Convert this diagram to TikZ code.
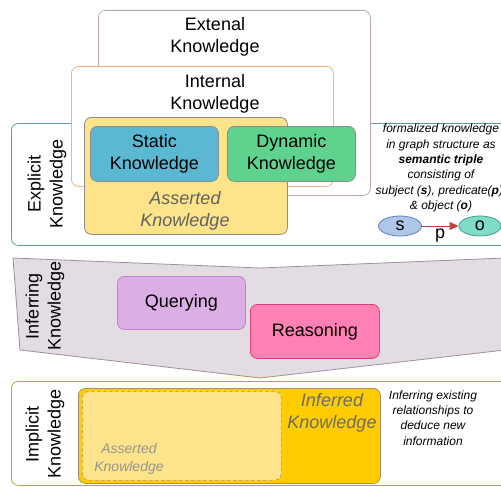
\documentclass[tikz,border=0pt]{standalone}
\usepackage{fontspec}
\setmainfont{Liberation Sans}
\usetikzlibrary{shapes.geometric,arrows.meta}
\definecolor{extb}{HTML}{BCA9A9}
\definecolor{intb}{HTML}{F4B183}
\definecolor{expb}{HTML}{5B9AA8}
\definecolor{assf}{HTML}{FDE38A}
\definecolor{boxb}{HTML}{8C8C8C}
\definecolor{statf}{HTML}{5BB8D2}
\definecolor{dynf}{HTML}{5FD38D}
\definecolor{inff}{HTML}{E3DCE3}
\definecolor{infb}{HTML}{9E8EA0}
\definecolor{qf}{HTML}{DCAEE6}
\definecolor{qb}{HTML}{C27FD0}
\definecolor{rf}{HTML}{FF80B2}
\definecolor{rb}{HTML}{E0407A}
\definecolor{impb}{HTML}{B8A050}
\definecolor{yelf}{HTML}{FFCC00}
\definecolor{yelb}{HTML}{A09070}
\definecolor{sf}{HTML}{AEC6E8}
\definecolor{sb}{HTML}{5A80C0}
\definecolor{of}{HTML}{80DCC8}
\definecolor{ob}{HTML}{40A090}
\definecolor{arr}{HTML}{C04040}
\begin{document}
\begin{tikzpicture}[x=1pt,y=-1pt,
  rbox/.style={draw,rounded corners=7pt,line width=0.8pt,inner sep=0pt,anchor=north west},
  big/.style={font=\fontsize{18}{22}\selectfont,align=center},
  small/.style={font=\fontsize{12}{15.3}\selectfont\itshape,align=center},
  side/.style={font=\fontsize{18}{22}\selectfont,align=center,rotate=90}]
\useasboundingbox (0,0) rectangle (501,487);
\begin{scope}
\clip (0,0) rectangle (501,487);
% explicit
\node[rbox,draw=expb,fill=white,minimum width=500pt,minimum height=122pt] (expl) at (11,123) {};
\node[rbox,draw=extb,fill=white,minimum width=272pt,minimum height=185pt] (ext) at (98,10) {};
\node[rbox,draw=intb,fill=white,minimum width=262pt,minimum height=120pt] (int) at (71,66) {};
\node[big,anchor=north] (extt) at (215,14) {Extenal\\Knowledge};
\node[big,anchor=north] (intt) at (215,71) {Internal\\Knowledge};
\node[rbox,draw=boxb,fill=assf,minimum width=203pt,minimum height=117pt] (ass) at (84,117) {};
\node[rbox,draw=boxb,fill=statf,minimum width=128pt,minimum height=55pt,big] (stat) at (90,126) {Static\\Knowledge};
\node[rbox,draw=boxb,fill=dynf,minimum width=128pt,minimum height=55pt,big] (dyn) at (227,126) {Dynamic\\Knowledge};
\node[big,font=\fontsize{18}{22}\selectfont\itshape,text=black!62] (asst) at (185,211) {Asserted\\Knowledge};
\node[side] (explt) at (47,184) {Explicit\\Knowledge};
\node[small] (formal) at (441,168) {formalized knowledge\\in graph structure as\\\textbf{semantic triple}\\consisting of\\subject (\textbf{s}), predicate(\textbf{p}),\\\& object (\textbf{o})};
\node[ellipse,draw=sb,fill=sf,line width=0.8pt,minimum width=43pt,minimum height=20pt,inner sep=0pt,big] (s) at (400,226) {s};
\node[ellipse,draw=ob,fill=of,line width=0.8pt,minimum width=42pt,minimum height=20pt,inner sep=0pt,big] (o) at (480,226) {o};
\draw[arr,line width=1pt,-{Triangle[length=9pt,width=8pt]}] (s) -- (o) node[midway,below=-1pt,big,text=black] (p) {p};
% inferring
\draw[infb,fill=inff,line width=0.8pt] (13,258) -- (260,268) -- (505,258) -- (505,350) -- (260,378) -- (20,350) -- cycle;
\node[rbox,draw=qb,fill=qf,minimum width=128pt,minimum height=53pt,big] (q) at (117,276) {Querying};
\node[rbox,draw=rb,fill=rf,minimum width=129pt,minimum height=54pt,big] (r) at (250,304) {Reasoning};
\node[side] (inft) at (45,306) {Inferring\\Knowledge};
% implicit
\node[rbox,draw=impb,fill=white,minimum width=500pt,minimum height=104pt] (impl) at (11,381) {};
\node[rbox,draw=yelb,fill=yelf,minimum width=302pt,minimum height=95pt] (infk) at (78,388) {};
\node[rbox,draw=yelb,fill=assf,dashed,line width=0.6pt,minimum width=199pt,minimum height=89pt] (ass2) at (82,391) {};
\node[big,font=\fontsize{18}{22}\selectfont\itshape,text=black!58] (infkt) at (332,413) {Inferred\\Knowledge};
\node[font=\fontsize{14}{17.5}\selectfont\itshape,align=center,text=black!42] (ass2t) at (129,459) {Asserted\\Knowledge};
\node[small] (infer) at (433,418) {Inferring existing\\relationships to\\deduce new\\information};
\node[side] (implt) at (45,434) {Implicit\\Knowledge};
\end{scope}
\end{tikzpicture}
\end{document}
